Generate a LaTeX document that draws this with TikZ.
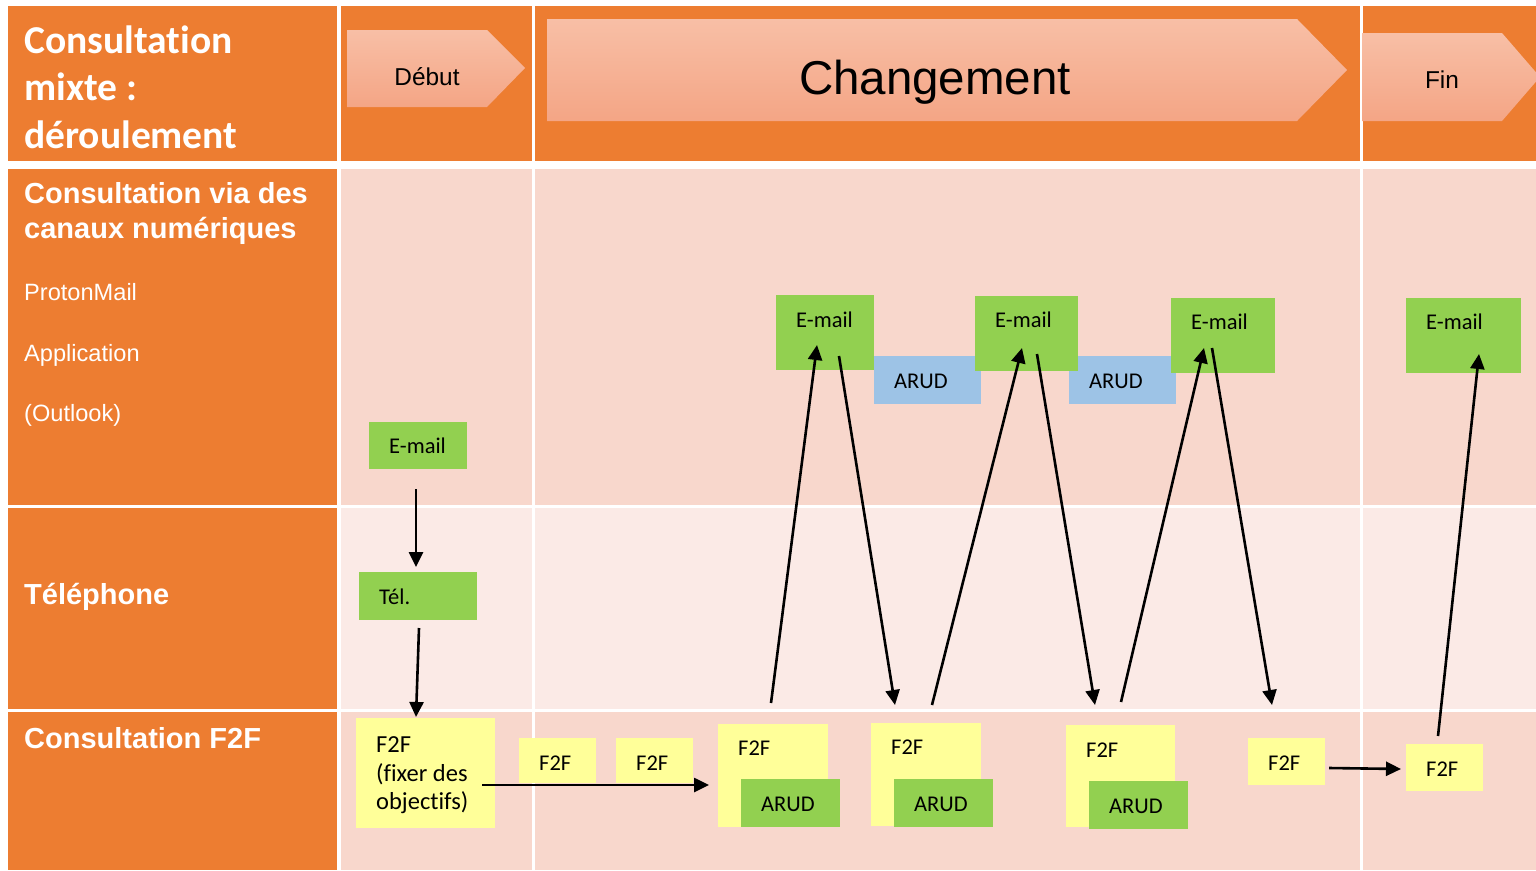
\documentclass[tikz,border=0pt]{standalone}
\usepackage{fontspec}
\setmainfont{Carlito}[Ligatures={NoCommon}]
\newfontfamily\arialfont{Liberation Sans}
\usetikzlibrary{arrows.meta}

\definecolor{hdrorange}{HTML}{ED7D31}
\definecolor{rowpink}{HTML}{F8D7CC}
\definecolor{rowpale}{HTML}{FBEAE6}
\definecolor{boxgreen}{HTML}{92D050}
\definecolor{boxyellow}{HTML}{FFFF99}
\definecolor{boxblue}{HTML}{9DC3E6}
\definecolor{chevtop}{HTML}{F8BFA6}
\definecolor{chevbot}{HTML}{F4A585}

\begin{document}
\begin{tikzpicture}[x=1pt,y=-1pt,
  sq/.style={draw=none,inner sep=0pt,outer sep=0pt,anchor=north west},
  gbox/.style={sq,fill=boxgreen},
  ybox/.style={sq,fill=boxyellow},
  bbox/.style={sq,fill=boxblue},
  lbl/.style={inner sep=0pt,anchor=base west,font=\fontsize{22.5}{27}\selectfont},
  biglbl/.style={inner sep=0pt,anchor=base west,font=\fontsize{24.5}{29}\selectfont},
  hdr/.style={inner sep=0pt,anchor=base west,text=white,font=\fontsize{39.5}{48}\selectfont\bfseries},
  rowhead/.style={inner sep=0pt,anchor=base west,text=white,font=\arialfont\bfseries\fontsize{29}{35}\selectfont},
  rowsub/.style={inner sep=0pt,anchor=base west,text=white,font=\arialfont\fontsize{23.6}{28}\selectfont},
  chev/.style={top color=chevtop,bottom color=chevbot,draw=none},
  chevtxt/.style={inner sep=0pt,anchor=base,font=\arialfont\fontsize{24.4}{29}\selectfont},
  arr/.style={line width=2.6pt,-{Triangle[length=15pt,width=14pt]}}
]
\useasboundingbox (0,0) rectangle (1536,870);
\clip (0,0) rectangle (1536,870);
\fill[white] (0,0) rectangle (1536,870);

% header row
\fill[hdrorange] (8,6) rectangle (337,161);
\fill[hdrorange] (341,6) rectangle (532,161);
\fill[hdrorange] (535,6) rectangle (1360,161);
\fill[hdrorange] (1363,6) rectangle (1536,161);

% first column
\fill[hdrorange] (8,169) rectangle (337,505);
\fill[hdrorange] (8,508) rectangle (337,709);
\fill[hdrorange] (8,712) rectangle (337,870);

% lane backgrounds
\foreach \xa/\xb in {341/532,535/1360,1363/1536}{
  \fill[rowpink] (\xa,169) rectangle (\xb,505);
  \fill[rowpale] (\xa,508) rectangle (\xb,709);
  \fill[rowpink] (\xa,712) rectangle (\xb,870);
}

% phase chevrons
\shade[chev] (347,30) -- (487,30) -- (525,68) -- (487,107) -- (347,107) -- cycle;
\node[chevtxt] (debut) at (427,85) {Début};
\shade[chev] (547,19) -- (1297,19) -- (1347,70) -- (1297,121) -- (547,121) -- cycle;
\node[chevtxt,font=\arialfont\fontsize{47.5}{56}\selectfont] (chg) at (935,94) {Changement};
\shade[chev] (1362,33) -- (1502,33) -- (1540,77) -- (1502,121) -- (1362,121) -- cycle;
\node[chevtxt] (fin) at (1442,88) {Fin};

% first column texts
\node[hdr] (h1) at (24,53) {Consultation};
\node[hdr] (h2) at (24,100) {mixte :};
\node[hdr] (h3) at (24,148) {déroulement};
\node[rowhead] (r1a) at (24,203) {Consultation via des};
\node[rowhead] (r1b) at (24,238) {canaux numériques};
\node[rowsub] (s1) at (24,300) {ProtonMail};
\node[rowsub] (s2) at (24,361) {Application};
\node[rowsub] (s3) at (24,421) {(Outlook)};
\node[rowhead] (r2) at (24,604) {Téléphone};
\node[rowhead] (r3) at (24,748) {Consultation F2F};

% start phase
\node[gbox,minimum width=98pt,minimum height=47pt] (em0) at (369,422) {};
\node[lbl] (em0t) at (389,453) {E-mail};
\node[gbox,minimum width=118pt,minimum height=48pt] (tel) at (359,572) {};
\node[lbl] (telt) at (379,604) {Tél.};
\node[ybox,minimum width=139pt,minimum height=110pt] (f0) at (356,718) {};
\node[biglbl] (f0a) at (376,752) {F2F};
\node[biglbl] (f0b) at (376,781) {(fixer des};
\node[biglbl] (f0c) at (376,809) {objectifs)};

% change phase: face-to-face meetings
\node[ybox,minimum width=77pt,minimum height=45pt] (f1) at (519,738) {};
\node[lbl] (f1t) at (539,770) {F2F};
\node[ybox,minimum width=77pt,minimum height=45pt] (f2) at (616,738) {};
\node[lbl] (f2t) at (636,770) {F2F};
\node[ybox,minimum width=110pt,minimum height=103pt] (f3) at (718,724) {};
\node[lbl] (f3t) at (738,755) {F2F};
\node[gbox,minimum width=99pt,minimum height=48pt] (ar3) at (741,779) {};
\node[lbl] (ar3t) at (761,811) {ARUD};
\node[ybox,minimum width=110pt,minimum height=103pt] (f4) at (871,723) {};
\node[lbl] (f4t) at (891,754) {F2F};
\node[gbox,minimum width=99pt,minimum height=48pt] (ar4) at (894,779) {};
\node[lbl] (ar4t) at (914,811) {ARUD};
\node[ybox,minimum width=109pt,minimum height=102pt] (f5) at (1066,725) {};
\node[lbl] (f5t) at (1086,757) {F2F};
\node[gbox,minimum width=99pt,minimum height=48pt] (ar5) at (1089,781) {};
\node[lbl] (ar5t) at (1109,813) {ARUD};
\node[ybox,minimum width=77pt,minimum height=47pt] (f6) at (1248,738) {};
\node[lbl] (f6t) at (1268,770) {F2F};

% change phase: e-mail exchanges
\node[bbox,minimum width=107pt,minimum height=48pt] (ab1) at (874,356) {};
\node[lbl] (ab1t) at (894,388) {ARUD};
\node[bbox,minimum width=107pt,minimum height=48pt] (ab2) at (1069,356) {};
\node[lbl] (ab2t) at (1089,388) {ARUD};
\node[gbox,minimum width=98pt,minimum height=75pt] (em1) at (776,295) {};
\node[lbl] (em1t) at (796,327) {E-mail};
\node[gbox,minimum width=103pt,minimum height=75pt] (em2) at (975,296) {};
\node[lbl] (em2t) at (995,327) {E-mail};
\node[gbox,minimum width=104pt,minimum height=75pt] (em3) at (1171,298) {};
\node[lbl] (em3t) at (1191,329) {E-mail};

% end phase
\node[gbox,minimum width=115pt,minimum height=75pt] (em4) at (1406,298) {};
\node[lbl] (em4t) at (1426,329) {E-mail};
\node[ybox,minimum width=77pt,minimum height=47pt] (f7) at (1406,744) {};
\node[lbl] (f7t) at (1426,776) {F2F};

% arrow end points
\coordinate (p0a) at (416,489);  \coordinate (p0b) at (416,567);
\coordinate (p1a) at (419,628);  \coordinate (p1b) at (416,717);
\coordinate (p2a) at (482,785);  \coordinate (p2b) at (709,785);
\coordinate (qAa) at (771,703);  \coordinate (qAb) at (817,345);
\coordinate (qBa) at (839,356);  \coordinate (qBb) at (895,705);
\coordinate (qCa) at (932,705);  \coordinate (qCb) at (1022,348);
\coordinate (qDa) at (1037,354); \coordinate (qDb) at (1095,705);
\coordinate (qEa) at (1121,702); \coordinate (qEb) at (1204,348);
\coordinate (qFa) at (1212,348); \coordinate (qFb) at (1272,705);
\coordinate (qGa) at (1438,736); \coordinate (qGb) at (1479,354);
\coordinate (qHa) at (1329,768); \coordinate (qHb) at (1401,769);

\draw[arr] (p0a) -- (p0b);
\draw[arr] (p1a) -- (p1b);
\draw[arr] (p2a) -- (p2b);
\draw[arr] (qAa) -- (qAb);
\draw[arr] (qBa) -- (qBb);
\draw[arr] (qCa) -- (qCb);
\draw[arr] (qDa) -- (qDb);
\draw[arr] (qEa) -- (qEb);
\draw[arr] (qFa) -- (qFb);
\draw[arr] (qGa) -- (qGb);
\draw[arr] (qHa) -- (qHb);
\end{tikzpicture}
\end{document}
